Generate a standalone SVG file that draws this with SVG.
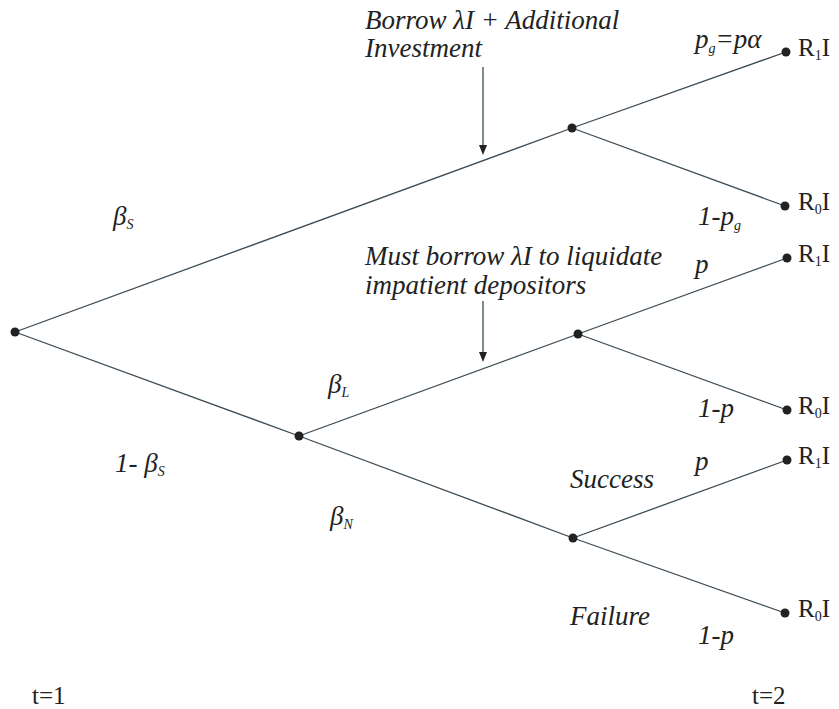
<svg xmlns="http://www.w3.org/2000/svg" width="839" height="709" viewBox="0 0 839 709">
<defs>
<style>
.ln{stroke:#3a4a54;stroke-width:1.3;fill:none}
.dot{fill:#222}
.it{font-family:"Liberation Serif","Times New Roman",serif;font-style:italic;font-size:27px;fill:#222}
.rm{font-family:"Liberation Serif","Times New Roman",serif;font-size:25px;fill:#222}
.sub{font-size:14px}
</style>
</defs>
<rect width="839" height="709" fill="#fff"/>
<g id="connectors">
<line class="ln" x1="15" y1="332" x2="572" y2="128"/>
<line class="ln" x1="572" y1="128" x2="786" y2="52"/>
<line class="ln" x1="572" y1="128" x2="785" y2="206"/>
<line class="ln" x1="15" y1="332" x2="299" y2="436"/>
<line class="ln" x1="299" y1="436" x2="578" y2="334"/>
<line class="ln" x1="578" y1="334" x2="787" y2="258"/>
<line class="ln" x1="578" y1="334" x2="787" y2="410"/>
<line class="ln" x1="299" y1="436" x2="573" y2="538"/>
<line class="ln" x1="573" y1="538" x2="787" y2="460"/>
<line class="ln" x1="573" y1="538" x2="785" y2="613"/>
<line class="ln" x1="483" y1="67" x2="483" y2="147"/>
<path d="M479,145 L487,145 L483,155 Z" fill="#222"/>
<line class="ln" x1="483" y1="301" x2="483" y2="354"/>
<path d="M479,352 L487,352 L483,362 Z" fill="#222"/>
</g>
<g id="root"><circle class="dot" cx="15" cy="332" r="4.5"/></g>
<g id="node-s"><circle class="dot" cx="572" cy="128" r="4.5"/></g>
<g id="node-nonS"><circle class="dot" cx="299" cy="436" r="4.5"/></g>
<g id="node-l"><circle class="dot" cx="578" cy="334" r="4.5"/></g>
<g id="node-n"><circle class="dot" cx="573" cy="538" r="4.5"/></g>
<g id="leaf1"><circle class="dot" cx="786" cy="52" r="4.5"/><text class="rm" x="798" y="56">R<tspan class="sub" dy="4">1</tspan><tspan dy="-4">I</tspan></text></g>
<g id="leaf2"><circle class="dot" cx="785" cy="206" r="4.5"/><text class="rm" x="798" y="210">R<tspan class="sub" dy="4">0</tspan><tspan dy="-4">I</tspan></text></g>
<g id="leaf3"><circle class="dot" cx="787" cy="258" r="4.5"/><text class="rm" x="798" y="262">R<tspan class="sub" dy="4">1</tspan><tspan dy="-4">I</tspan></text></g>
<g id="leaf4"><circle class="dot" cx="787" cy="410" r="4.5"/><text class="rm" x="798" y="414">R<tspan class="sub" dy="4">0</tspan><tspan dy="-4">I</tspan></text></g>
<g id="leaf5"><circle class="dot" cx="787" cy="460" r="4.5"/><text class="rm" x="798" y="464">R<tspan class="sub" dy="4">1</tspan><tspan dy="-4">I</tspan></text></g>
<g id="leaf6"><circle class="dot" cx="785" cy="613" r="4.5"/><text class="rm" x="798" y="617">R<tspan class="sub" dy="4">0</tspan><tspan dy="-4">I</tspan></text></g>
<g id="labels">
<text class="it" x="365" y="29">Borrow λI + Additional</text>
<text class="it" x="365" y="57">Investment</text>
<text class="it" x="365" y="265">Must borrow λI to liquidate</text>
<text class="it" x="365" y="294">impatient depositors</text>
<text class="it" x="695" y="48">p<tspan class="sub" dy="5">g</tspan><tspan dy="-5">=pα</tspan></text>
<text class="it" x="698" y="225">1-p<tspan class="sub" dy="5">g</tspan></text>
<text class="it" x="695" y="273">p</text>
<text class="it" x="698" y="417">1-p</text>
<text class="it" x="695" y="470">p</text>
<text class="it" x="698" y="644">1-p</text>
<text class="it" x="570" y="488">Success</text>
<text class="it" x="570" y="625">Failure</text>
<text class="it" x="113" y="225">β<tspan class="sub" dy="4">S</tspan></text>
<text class="it" x="115" y="472">1- β<tspan class="sub" dy="4">S</tspan></text>
<text class="it" x="328" y="393">β<tspan class="sub" dy="4">L</tspan></text>
<text class="it" x="330" y="525">β<tspan class="sub" dy="4">N</tspan></text>
<text class="rm" x="32" y="704">t=1</text>
<text class="rm" x="752" y="704">t=2</text>
</g>
</svg>
